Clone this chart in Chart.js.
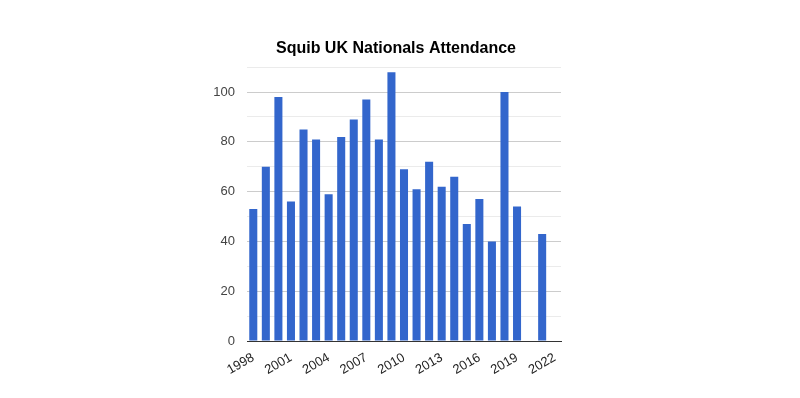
<!DOCTYPE html>
<html>
<head>
<meta charset="utf-8">
<script src="https://cdn.jsdelivr.net/npm/chart.js@4"></script>
<style>
html,body{margin:0;padding:0;background:#fff;}
#wrap{width:800px;height:398px;}
</style>
</head>
<body>
<div id="wrap"><canvas id="c" width="800" height="398"></canvas></div>
<script>
const years = ['1998','1999','2000','2001','2002','2003','2004','2005','2006','2007','2008','2009','2010','2011','2012','2013','2014','2015','2016','2017','2018','2019','2020','2021','2022'];
const attendance = [53,70,98,56,85,81,59,82,89,97,81,108,69,61,72,62,66,47,57,40,100,54,null,43,null];
const shownYears = ['1998','2001','2004','2007','2010','2013','2016','2019','2022'];
const titleText = 'Squib UK Nationals Attendance';

new Chart(document.getElementById('c'), {
  type: 'bar',
  data: {
    labels: years,
    datasets: [{
      data: attendance,
      backgroundColor: '#3366CC',
      borderWidth: 0,
      categoryPercentage: 1.0,
      barPercentage: 0.64
    }]
  },
  options: {
    responsive: false,
    animation: false,
    layout: { padding: { left: 207, right: 215, top: 0, bottom: 0 } },
    plugins: {
      legend: { display: false },
      tooltip: { enabled: false },
      title: {
        display: true,
        text: titleText,
        color: '#000',
        font: { family: 'Arial, "Liberation Sans", sans-serif', size: 16, weight: 'bold' },
        padding: { top: 39, bottom: 9 }
      }
    },
    scales: {
      x: {
        grid: { display: false, drawTicks: false },
        border: { display: true, color: '#333', width: 1 },
        afterFit: s => { s.height = 57; },
        ticks: {
          autoSkip: false,
          maxRotation: 30,
          minRotation: 30,
          padding: 9,
          color: '#222',
          font: { family: 'Arial, "Liberation Sans", sans-serif', size: 13 },
          callback: function(v, i) { const l = years[i]; return shownYears.includes(l) ? l : ''; }
        }
      },
      y: {
        min: 0,
        max: 110,
        afterFit: s => { s.width = 40; },
        border: { display: false },
        grid: {
          drawTicks: false,
          color: ctx => (ctx.tick && ctx.tick.value % 20 === 0) ? '#cccccc' : '#ebebeb'
        },
        ticks: {
          stepSize: 10,
          padding: 12,
          color: '#444',
          font: { family: 'Arial, "Liberation Sans", sans-serif', size: 13 },
          callback: v => (v % 20 === 0 ? v : '')
        }
      },
      yRight: {
        type: 'linear',
        position: 'right',
        min: 0,
        max: 110,
        afterFit: s => { s.width = 24; },
        border: { display: false },
        grid: { display: false, drawTicks: false },
        ticks: { display: false }
      }
    }
  }
});
</script>
</body>
</html>
